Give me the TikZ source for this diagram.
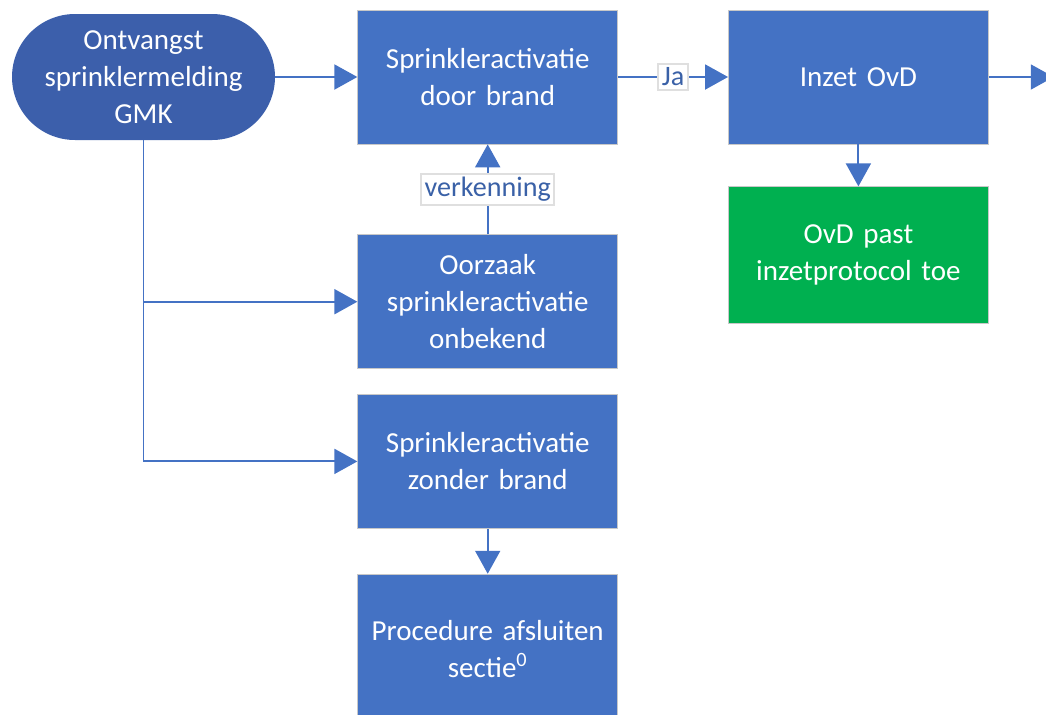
\documentclass[tikz,border=0pt]{standalone}
\usepackage{fontspec}
\setmainfont{Carlito}
\usepackage{tikz}
\definecolor{boxblue}{HTML}{4472C4}
\definecolor{ovalblue}{HTML}{3C5FAB}
\definecolor{okgreen}{HTML}{00B050}
\definecolor{edgegray}{HTML}{C8C8C8}
\tikzstyle{block} = [rectangle, draw=edgegray, fill=boxblue, text=white,
    text width=4.9cm, align=center, minimum width=5.2cm, minimum height=2.68cm,
    font=\fontsize{16.5}{21}\selectfont]
\tikzstyle{oval} = [block, fill=ovalblue, draw=none, minimum width=5.26cm,
    minimum height=2.52cm, rounded corners=1.26cm]
\tikzstyle{flow} = [draw=boxblue, line width=1.1pt, -{Triangle[width=0.5cm,length=0.46cm]}]
\tikzstyle{tag} = [fill=white, draw=gray!25, text=boxblue!85!black, inner sep=2pt,
    font=\fontsize{16}{18}\selectfont]
\usetikzlibrary{arrows.meta}
\usetikzlibrary{positioning}

\begin{document}
\begin{tikzpicture}
    \useasboundingbox (0,0) rectangle (20.92,-14.28);
    \clip (0,0) rectangle (20.92,-14.28);

    \node[oval] (melding) at (2.87,-1.54) {Ontvangst\\ sprinklermelding\\ GMK};
    \node[block, right=1.64cm of melding] (brand) {Sprinkleractivatie\\ door brand};
    \node[block, right=2.2cm of brand] (ovd) {Inzet OvD};
    \node[block, fill=okgreen, minimum height=2.74cm, below=0.84cm of ovd] (protocol) {OvD past\\ inzetprotocol toe};
    \node[block, below=1.8cm of brand] (onbekend) {Oorzaak\\ sprinkleractivatie\\ onbekend};
    \node[block, below=0.5cm of onbekend] (geenbrand) {Sprinkleractivatie\\ zonder brand};
    \node[block, minimum height=3cm, below=0.9cm of geenbrand] (afsluiten) {Procedure afsluiten\\ sectie\textsuperscript{0}};
    \coordinate[right=1.3cm of ovd] (verder);

    \draw[flow] (melding) -- (brand);
    \draw[flow] (brand) -- node[tag] (ja) {Ja} (ovd);
    \draw[flow] (ovd) -- (verder);
    \draw[flow] (ovd) -- (protocol);
    \draw[flow] (onbekend) -- node[tag] (verkenning) {verkenning} (brand);
    \draw[flow] (melding.south) |- (onbekend.west);
    \draw[flow] (melding.south) |- (geenbrand.west);
    \draw[flow] (geenbrand) -- (afsluiten);
\end{tikzpicture}
\end{document}
